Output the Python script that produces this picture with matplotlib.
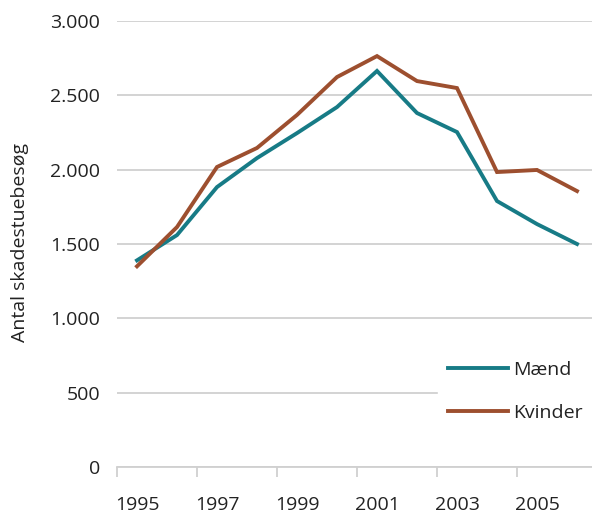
import numpy as np
import matplotlib.pyplot as plt
from matplotlib.ticker import FuncFormatter

plt.rcParams['font.family'] = ['Open Sans', 'DejaVu Sans']

years = [1995, 1996, 1997, 1998, 1999, 2000, 2001, 2002, 2003, 2004, 2005, 2006]
maend = [1390, 1560, 1883, 2078, 2246, 2421, 2664, 2381, 2253, 1789, 1634, 1500]
kvinder = [1350, 1614, 2018, 2146, 2368, 2623, 2764, 2596, 2549, 1984, 1998, 1856]

teal = "#177b86"
brown = "#9d4f2f"
grid = "#d0d0d0"
txt = "#222222"
fs = 14

fig = plt.figure(figsize=(5.92, 5.13), dpi=100)
ax = fig.add_axes([117/592, 46/513, 480/592, 446/513])

x = np.arange(len(years))
ax.plot(x, maend, color=teal, lw=2.8, label="Mænd", solid_joinstyle="miter", clip_on=False, zorder=3)
ax.plot(x, kvinder, color=brown, lw=2.8, label="Kvinder", solid_joinstyle="miter", clip_on=False, zorder=3)

ax.set_xlim(-0.5, len(years) - 0.5)
ax.set_ylim(0, 3000)
ax.set_yticks(np.arange(0, 3001, 500))
ax.yaxis.set_major_formatter(FuncFormatter(lambda v, p: f"{int(v):,}".replace(",", ".")))
ax.yaxis.grid(True, color=grid, lw=1.3)
ax.set_axisbelow(True)

# category axis: ticks between categories every 2, labels on odd years
ax.set_xticks(np.arange(-0.5, len(years), 2))
ax.set_xticklabels([])
ax.set_xticks(x[::2], minor=True)
ax.set_xticklabels([str(y) for y in years[::2]], minor=True)
ax.tick_params(axis="x", which="major", length=7, width=1.3, color=grid, direction="out")
ax.tick_params(axis="x", which="minor", length=0, pad=21, labelsize=fs, labelcolor=txt)
ax.tick_params(axis="y", length=0, pad=12, labelsize=fs, labelcolor=txt)

for s in ["top", "right", "left"]:
    ax.spines[s].set_visible(False)
ax.spines["bottom"].set_color(grid)
ax.spines["bottom"].set_linewidth(1.3)

fig.text(20/592, 1 - 243/513, "Antal skadestuebesøg", rotation=90, ha="center", va="center",
         fontsize=fs, color=txt)

leg = ax.legend(loc="upper left", bbox_to_anchor=(438/592, 1 - 351/513), bbox_transform=fig.transFigure,
                frameon=True, handlelength=3.1, handletextpad=0.25, labelspacing=1.3,
                borderpad=0.5, borderaxespad=0, fontsize=fs)
leg.get_frame().set_edgecolor("white")
leg.get_frame().set_facecolor("white")
leg.get_frame().set_alpha(1)
leg.get_frame().set_boxstyle("square", pad=0)
for t in leg.get_texts():
    t.set_color(txt)

fig.savefig("out.png", dpi=100)
